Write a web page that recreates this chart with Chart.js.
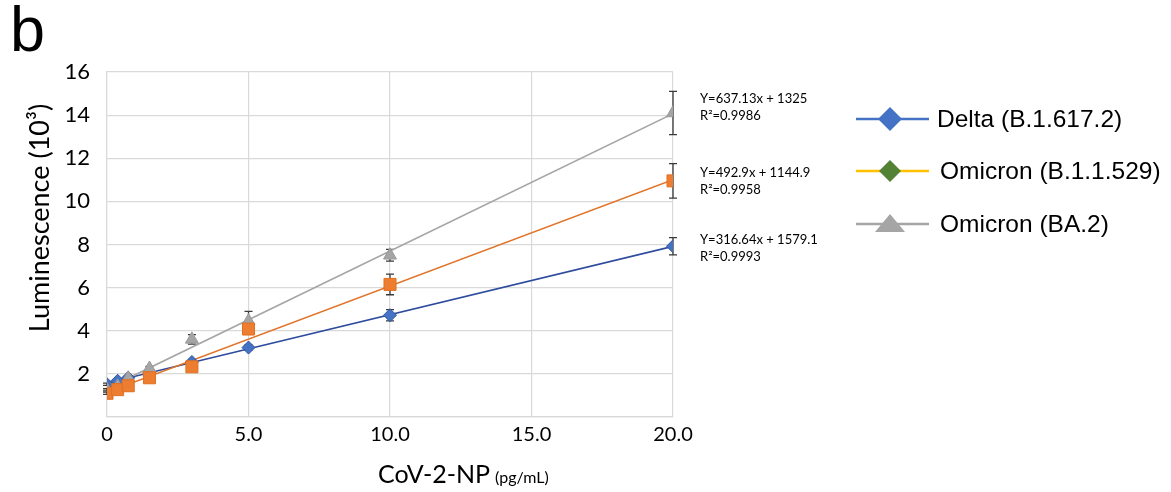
<!DOCTYPE html>
<html><head><meta charset="utf-8">
<script src="https://cdn.jsdelivr.net/npm/chart.js@4/dist/chart.umd.min.js"></script>
<style>
html,body{margin:0;padding:0;background:#fff;}
#wrap{position:relative;width:1171px;height:492px;}
#panel{position:absolute;left:10px;top:-7px;font:63px "Liberation Sans",Arial,sans-serif;color:#000;}
</style>
</head><body>
<div id="wrap"><canvas id="c" width="1171" height="492"></canvas><div id="panel">b</div></div>
<script>
// ---- data ----
const concentrations = [0, 0.375, 0.75, 1.5, 3, 5, 10, 20];
const seriesNames = ['Delta (B.1.617.2)', 'Omicron (B.1.1.529)', 'Omicron (BA.2)'];
const deltaValues   = [1.52, 1.68, 1.82, 2.05, 2.55, 3.22, 4.72, 7.92];
const omicronValues = [1.10, 1.27, 1.45, 1.82, 2.33, 4.08, 6.15, 10.95];
const ba2Values     = [1.26, 1.42, 1.80, 2.25, 3.60, 4.45, 7.50, 14.10];
const deltaErrors   = [0.05, 0.05, 0.05, 0.06, 0.08, 0.12, 0.26, 0.40];
const omicronErrors = [0.05, 0.05, 0.05, 0.06, 0.10, 0.14, 0.48, 0.80];
const ba2Errors     = [0.05, 0.05, 0.06, 0.10, 0.22, 0.45, 0.27, 1.00];
const trendX = [0, 20];
const deltaTrend   = [1.579, 7.912];
const omicronTrend = [1.145, 11.003];
const ba2Trend     = [1.325, 14.068];
const equations = ['Y=637.13x + 1325', 'Y=492.9x + 1144.9', 'Y=316.64x + 1579.1'];
const rSquared  = ['R\u00B2=0.9986', 'R\u00B2=0.9958', 'R\u00B2=0.9993'];
const xTickLabels = ['0', '5.0', '10.0', '15.0', '20.0'];
const yTickLabels = ['', '2', '4', '6', '8', '10', '12', '14', '16'];

const pts = (xs, ys) => xs.map((x, i) => ({x: x, y: ys[i]}));

const errorBarPlugin = {
  id: 'errorBars',
  beforeDatasetsDraw(chart) {
    const ctx = chart.ctx, xs = chart.scales.x, ys = chart.scales.y;
    const sets = [[deltaValues, deltaErrors], [ba2Values, ba2Errors], [omicronValues, omicronErrors]];
    ctx.save();
    ctx.strokeStyle = '#3a3a3a';
    ctx.lineWidth = 1.3;
    sets.forEach(([vals, errs]) => {
      concentrations.forEach((c, i) => {
        const px = xs.getPixelForValue(c);
        const top = ys.getPixelForValue(vals[i] + errs[i]);
        const bot = ys.getPixelForValue(vals[i] - errs[i]);
        ctx.beginPath();
        ctx.moveTo(px, top); ctx.lineTo(px, bot);
        ctx.moveTo(px - 4, top); ctx.lineTo(px + 4, top);
        ctx.moveTo(px - 4, bot); ctx.lineTo(px + 4, bot);
        ctx.stroke();
      });
    });
    ctx.restore();
  }
};

const decorPlugin = {
  id: 'decor',
  afterDraw(chart) {
    const ctx = chart.ctx, area = chart.chartArea;
    ctx.save();
    // y axis title
    ctx.fillStyle = '#000';
    ctx.font = '27px Lato, "Open Sans", sans-serif';
    ctx.textAlign = 'center';
    ctx.textBaseline = 'middle';
    ctx.translate(40, 218);
    ctx.rotate(-Math.PI / 2);
    ctx.fillText('Luminescence (10\u00B3)', 0, 0);
    ctx.setTransform(1, 0, 0, 1, 0, 0);
    // x axis title
    ctx.textAlign = 'left';
    ctx.textBaseline = 'alphabetic';
    ctx.font = '25px Lato, "Open Sans", sans-serif';
    const t1 = 'CoV-2-NP';
    ctx.fillText(t1, 378, 483);
    const w1 = ctx.measureText(t1).width;
    ctx.font = '16px Lato, "Open Sans", sans-serif';
    ctx.fillText('(pg/mL)', 378 + w1 + 5, 483);
    // equations
    ctx.font = '13px Lato, "Open Sans", sans-serif';
    ctx.textBaseline = 'middle';
    const eqX = area.right + 27;
    const eqY = [99, 173, 240];
    equations.forEach((e, i) => {
      ctx.fillText(e, eqX, eqY[i]);
      ctx.fillText(rSquared[i], eqX, eqY[i] + 17);
    });
    // legend
    const legY = [119, 171, 224];
    const lineCol = ['#4472C4', '#FFC000', '#A5A5A5'];
    const fillCol = ['#4472C4', '#548235', '#A5A5A5'];
    const textX = [937, 940, 940];
    legY.forEach((y, i) => {
      ctx.strokeStyle = lineCol[i];
      ctx.lineWidth = 2.5;
      ctx.beginPath(); ctx.moveTo(856, y); ctx.lineTo(929, y); ctx.stroke();
      ctx.fillStyle = fillCol[i];
      ctx.beginPath();
      if (i < 2) {
        const r = i === 0 ? 12 : 11;
        ctx.moveTo(890, y - r); ctx.lineTo(890 + r, y); ctx.lineTo(890, y + r); ctx.lineTo(890 - r, y);
      } else {
        ctx.moveTo(890, y - 10); ctx.lineTo(905, y + 8); ctx.lineTo(875, y + 8);
      }
      ctx.closePath(); ctx.fill();
      ctx.fillStyle = '#000';
      ctx.font = '24.5px "Liberation Sans", Arial, sans-serif';
      ctx.textAlign = 'left';
      ctx.fillText(seriesNames[i], textX[i], y + 1);
    });
    ctx.restore();
  }
};

new Chart(document.getElementById('c'), {
  data: {
    datasets: [
      {type: 'scatter', label: seriesNames[1], data: pts(concentrations, omicronValues), order: 1,
       pointStyle: 'rect', pointRadius: 8.5, backgroundColor: '#ED7D31', borderColor: '#E07020', borderWidth: 1, showLine: false},
      {type: 'scatter', label: seriesNames[2], data: pts(concentrations, ba2Values), order: 2,
       pointStyle: 'triangle', pointRadius: 7.5, backgroundColor: '#A5A5A5', borderColor: '#9a9a9a', borderWidth: 1, showLine: false},
      {type: 'scatter', label: seriesNames[0], data: pts(concentrations, deltaValues), order: 3,
       pointStyle: 'rectRot', pointRadius: 6.5, backgroundColor: '#4472C4', borderColor: '#2F5597', borderWidth: 1, showLine: false},
      {type: 'line', label: 'trend BA.2', data: pts(trendX, ba2Trend), order: 4,
       borderColor: '#A5A5A5', borderWidth: 1.6, pointRadius: 0, fill: false},
      {type: 'line', label: 'trend B.1.1.529', data: pts(trendX, omicronTrend), order: 5,
       borderColor: '#E07328', borderWidth: 1.6, pointRadius: 0, fill: false},
      {type: 'line', label: 'trend Delta', data: pts(trendX, deltaTrend), order: 6,
       borderColor: '#2E4C9E', borderWidth: 1.6, pointRadius: 0, fill: false}
    ]
  },
  options: {
    responsive: false,
    animation: false,
    layout: {padding: {left: 0, right: 498, top: 72, bottom: 0}},
    plugins: {legend: {display: false}, tooltip: {enabled: false}},
    scales: {
      x: {
        type: 'linear', min: 0, max: 20,
        ticks: {stepSize: 5, color: '#000', font: {family: 'Lato', size: 20}, padding: 6,
                callback: (v) => xTickLabels[Math.round(v / 5)]},
        grid: {color: '#d9d9d9', lineWidth: 1.2, drawTicks: false},
        border: {color: '#d9d9d9', width: 1.2},
        afterFit: (s) => { s.height = 75; }
      },
      y: {
        type: 'linear', min: 0, max: 16,
        ticks: {stepSize: 2, color: '#000', font: {family: 'Lato', size: 22}, padding: 17,
                callback: (v) => yTickLabels[Math.round(v / 2)]},
        grid: {color: '#d9d9d9', lineWidth: 1.2, drawTicks: false},
        border: {color: '#d9d9d9', width: 1.2},
        afterFit: (s) => { s.width = 107; }
      }
    }
  },
  plugins: [errorBarPlugin, decorPlugin]
});
</script>
</body></html>
